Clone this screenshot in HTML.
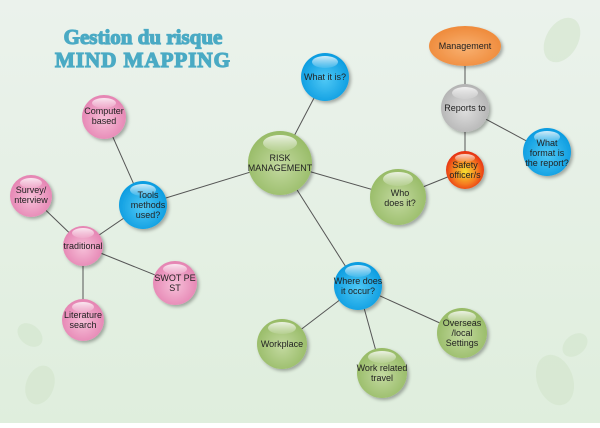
<!DOCTYPE html>
<html><head><style>html,body{margin:0;padding:0}body{width:600px;height:423px;overflow:hidden}</style></head>
<body>
<svg width="600" height="423" viewBox="0 0 600 423" xmlns="http://www.w3.org/2000/svg" font-family="Liberation Sans, sans-serif">
<defs>
<linearGradient id="bg" x1="0" y1="0" x2="0" y2="1"><stop offset="0" stop-color="#ebf2ec"/><stop offset="1" stop-color="#dfeedd"/></linearGradient>
<radialGradient id="blue" cx="0.5" cy="0.55" r="0.55"><stop offset="0" stop-color="#4fc8f5"/><stop offset="1" stop-color="#0a9be0"/></radialGradient>
<radialGradient id="green" cx="0.5" cy="0.55" r="0.55"><stop offset="0" stop-color="#c3d9a0"/><stop offset="1" stop-color="#97bb66"/></radialGradient>
<radialGradient id="pink" cx="0.5" cy="0.55" r="0.55"><stop offset="0" stop-color="#f6bfd8"/><stop offset="1" stop-color="#e583b2"/></radialGradient>
<radialGradient id="gray" cx="0.5" cy="0.55" r="0.55"><stop offset="0" stop-color="#dedede"/><stop offset="1" stop-color="#b3b3b3"/></radialGradient>
<radialGradient id="red" cx="0.5" cy="0.55" r="0.55"><stop offset="0" stop-color="#f5e030"/><stop offset="0.6" stop-color="#f57a20"/><stop offset="1" stop-color="#e52a10"/></radialGradient>
<radialGradient id="orange" cx="0.5" cy="0.55" r="0.55"><stop offset="0" stop-color="#f8b070"/><stop offset="1" stop-color="#ef8a3a"/></radialGradient>
<linearGradient id="hl" x1="0" y1="0" x2="0" y2="1"><stop offset="0" stop-color="#fff" stop-opacity="0.8"/><stop offset="1" stop-color="#fff" stop-opacity="0.1"/></linearGradient>
<filter id="sh" x="-30%" y="-30%" width="160%" height="160%"><feDropShadow dx="2" dy="2" stdDeviation="1.5" flood-color="#000" flood-opacity="0.3"/></filter>
</defs>
<rect width="600" height="423" fill="url(#bg)"/>
<g fill="#d3e5cc" opacity="0.6">
<ellipse cx="562" cy="40" rx="16" ry="24" transform="rotate(30 562 40)"/>
<ellipse cx="30" cy="335" rx="10" ry="14" transform="rotate(-50 30 335)"/>
<ellipse cx="40" cy="385" rx="14" ry="20" transform="rotate(20 40 385)"/>
<ellipse cx="555" cy="380" rx="18" ry="26" transform="rotate(-20 555 380)"/>
<ellipse cx="575" cy="345" rx="10" ry="14" transform="rotate(50 575 345)"/>
</g>
<g stroke="#555" stroke-width="1" fill="none">
<line x1="280" y1="163" x2="325" y2="77"/>
<line x1="280" y1="163" x2="143" y2="205"/>
<line x1="280" y1="163" x2="398" y2="197"/>
<line x1="280" y1="163" x2="358" y2="286"/>
<line x1="143" y1="205" x2="104" y2="117"/>
<line x1="143" y1="205" x2="83" y2="246"/>
<line x1="83" y1="246" x2="31" y2="196"/>
<line x1="83" y1="246" x2="175" y2="283"/>
<line x1="83" y1="246" x2="83" y2="320"/>
<line x1="398" y1="197" x2="465" y2="170"/>
<line x1="465" y1="170" x2="465" y2="46"/>
<line x1="465" y1="108" x2="547" y2="152"/>
<line x1="358" y1="286" x2="282" y2="344"/>
<line x1="358" y1="286" x2="382" y2="373"/>
<line x1="358" y1="286" x2="462" y2="333"/>
</g>
<g font-size="9" fill="#222" text-anchor="middle">
<g filter="url(#sh)">
<circle cx="325" cy="77" r="24" fill="url(#blue)"/>
<circle cx="280" cy="163" r="32" fill="url(#green)"/>
<circle cx="104" cy="117" r="22" fill="url(#pink)"/>
<circle cx="143" cy="205" r="24" fill="url(#blue)"/>
<circle cx="31" cy="196" r="21" fill="url(#pink)"/>
<circle cx="83" cy="246" r="20" fill="url(#pink)"/>
<circle cx="175" cy="283" r="22" fill="url(#pink)"/>
<circle cx="83" cy="320" r="21" fill="url(#pink)"/>
<circle cx="398" cy="197" r="28" fill="url(#green)"/>
<circle cx="465" cy="108" r="24" fill="url(#gray)"/>
<circle cx="465" cy="170" r="19" fill="url(#red)"/>
<ellipse cx="465" cy="46" rx="36" ry="20" fill="url(#orange)"/>
<circle cx="547" cy="152" r="24" fill="url(#blue)"/>
<circle cx="358" cy="286" r="24" fill="url(#blue)"/>
<circle cx="282" cy="344" r="25" fill="url(#green)"/>
<circle cx="382" cy="373" r="25" fill="url(#green)"/>
<circle cx="462" cy="333" r="25" fill="url(#green)"/>
</g>
<g fill="url(#hl)">
<ellipse cx="325" cy="62" rx="13" ry="6"/>
<ellipse cx="280" cy="143" rx="17" ry="8"/>
<ellipse cx="104" cy="103" rx="12" ry="5"/>
<ellipse cx="143" cy="190" rx="13" ry="6"/>
<ellipse cx="31" cy="183" rx="11" ry="5"/>
<ellipse cx="83" cy="233" rx="11" ry="5"/>
<ellipse cx="175" cy="269" rx="12" ry="5"/>
<ellipse cx="83" cy="307" rx="11" ry="5"/>
<ellipse cx="398" cy="179" rx="15" ry="7"/>
<ellipse cx="465" cy="93" rx="13" ry="6"/>
<ellipse cx="465" cy="158" rx="10" ry="4"/>
<ellipse cx="547" cy="137" rx="13" ry="6"/>
<ellipse cx="358" cy="271" rx="13" ry="6"/>
<ellipse cx="282" cy="328" rx="14" ry="6"/>
<ellipse cx="382" cy="357" rx="14" ry="6"/>
<ellipse cx="462" cy="317" rx="14" ry="6"/>
</g>
<text x="325" y="80">What it is?</text>
<text x="280" y="161">RISK</text><text x="280" y="171">MANAGEMENT</text>
<text x="104" y="114">Computer</text><text x="104" y="124">based</text>
<text x="148" y="198">Tools</text><text x="148" y="208">methods</text><text x="148" y="218">used?</text>
<text x="31" y="193">Survey/</text><text x="31" y="203">nterview</text>
<text x="83" y="249">traditional</text>
<text x="175" y="281">SWOT PE</text><text x="175" y="291">ST</text>
<text x="83" y="318">Literature</text><text x="83" y="328">search</text>
<text x="400" y="196">Who</text><text x="400" y="206">does it?</text>
<text x="465" y="111">Reports to</text>
<text x="465" y="168">Safety</text><text x="465" y="178">officer/s</text>
<text x="465" y="49">Management</text>
<text x="547" y="146">What</text><text x="547" y="156">format is</text><text x="547" y="166">the report?</text>
<text x="358" y="284">Where does</text><text x="358" y="294">it occur?</text>
<text x="282" y="347">Workplace</text>
<text x="382" y="371">Work related</text><text x="382" y="381">travel</text>
<text x="462" y="326">Overseas</text><text x="462" y="336">/local</text><text x="462" y="346">Settings</text>
</g>
<g font-family="Liberation Serif, serif" font-weight="bold" fill="#4aaac4" stroke="#4aaac4" stroke-width="1.2" text-anchor="middle">
<text x="143" y="44" font-size="21">Gestion du risque</text>
<text x="143" y="67" font-size="21" letter-spacing="1">MIND MAPPING</text>
</g>
</svg>
</body></html>
